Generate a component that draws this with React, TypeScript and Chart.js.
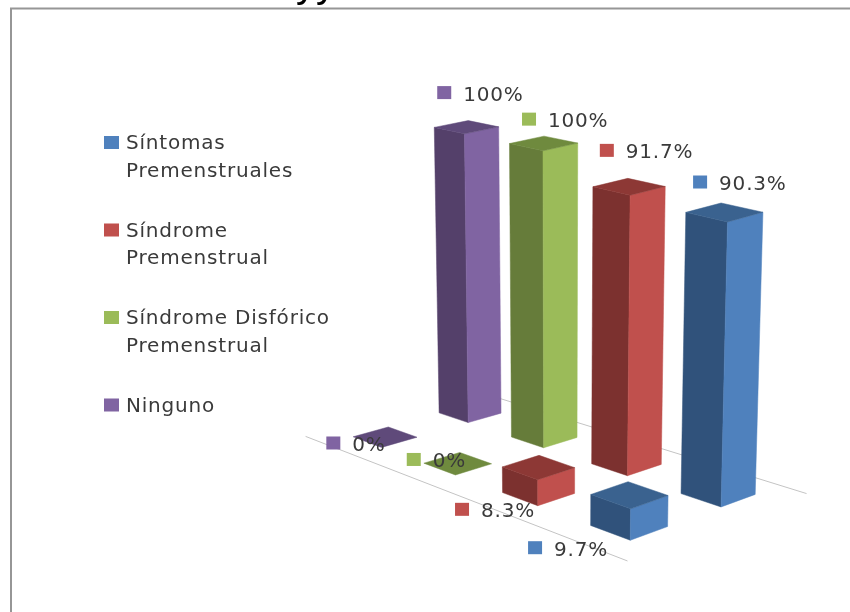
import React, { useEffect, useRef } from "react";
import { Chart, BarController, registerables } from "chart.js";

// Rows of the chart, back row first; the group names are not printed.
const rows = ["Fila posterior", "Fila frontal"];
const seriesNames = ["Síntomas Premenstruales", "Síndrome Premenstrual", "Síndrome Disfórico Premenstrual", "Ninguno"];
const legendLines = [["Síntomas", "Premenstruales"], ["Síndrome", "Premenstrual"], ["Síndrome Disfórico", "Premenstrual"], ["Ninguno"]];
const sintomas = [90.3, 9.7];
const sindrome = [91.7, 8.3];
const disforico = [100, 0];
const ninguno = [100, 0];

type Shades = { front: string; side: string; top: string };
const shades: Shades[] = [
  { front: "#4f81bd", side: "#30527b", top: "#3a628f" },
  { front: "#c0504d", side: "#7c312f", top: "#8d3835" },
  { front: "#9bbb59", side: "#667c3a", top: "#6f8a3e" },
  { front: "#8064a2", side: "#54406a", top: "#5f4a7a" },
];

// Floor projection: four reference points of the floor plane on the canvas.
const floorQuad = [[385, 437], [629, 526], [718, 494], [470, 413]];
const halfWidth = 0.207;
const halfDepth = 0.2;
const verticalScale = 0.953;
const depthPower = 0.55;
const vanishX = 560;
const lean = 0.04 / 285;
// Where each value tag sits relative to the far top corner of its prism.
const tagOffsets = [
  [[-21, -21], [-93, 66]],
  [[-21, -28], [-77, 54]],
  [[-15, -17], [-46, 7]],
  [[-24, -28], [-55, 16]],
];
const textFont = '20px "DejaVu Sans"';
const textColor = "#3a3a3a";

const homography = (() => {
  const [[x0, y0], [x1, y1], [x2, y2], [x3, y3]] = floorQuad;
  const dx1 = x1 - x2, dx2 = x3 - x2, sx = x0 - x1 + x2 - x3;
  const dy1 = y1 - y2, dy2 = y3 - y2, sy = y0 - y1 + y2 - y3;
  const den = dx1 * dy2 - dx2 * dy1;
  const g = (sx * dy2 - dx2 * sy) / den;
  const h = (dx1 * sy - sx * dy1) / den;
  return { a: x1 - x0 + g * x1, b: x3 - x0 + h * x3, c: x0, d: y1 - y0 + g * y1, e: y3 - y0 + h * y3, f: y0, g, h };
})();

// Position along the series axis (0..3) and the row axis (0..1) to canvas pixels.
function floorPoint(s: number, r: number) {
  const u = s / 3;
  const { a, b, c, d, e, f, g, h } = homography;
  const w = g * u + h * r + 1;
  return { x: (a * u + b * r + c) / w, y: (d * u + e * r + f) / w, depth: (h + 1) / w };
}

function raise(p: { x: number; y: number; depth: number }, px: number) {
  const lift = px * verticalScale * Math.pow(p.depth, depthPower);
  return { x: p.x + (p.x - vanishX) * lean * lift, y: p.y - lift };
}

function prismCorners(datasetIndex: number, rowIndex: number, lift: number) {
  const s = seriesNames.length - 1 - datasetIndex;
  const r = rows.length - 1 - rowIndex;
  const left = floorPoint(s - halfWidth, r - halfDepth);
  const front = floorPoint(s + halfWidth, r - halfDepth);
  const right = floorPoint(s + halfWidth, r + halfDepth);
  const back = floorPoint(s - halfWidth, r + halfDepth);
  return {
    left, front, right,
    topLeft: raise(left, lift), topFront: raise(front, lift), topRight: raise(right, lift), topBack: raise(back, lift),
  };
}

function face(ctx: CanvasRenderingContext2D, pts: { x: number; y: number }[], color: string) {
  ctx.beginPath();
  pts.forEach((p, i) => (i ? ctx.lineTo(p.x, p.y) : ctx.moveTo(p.x, p.y)));
  ctx.closePath();
  ctx.fillStyle = color;
  ctx.strokeStyle = color;
  ctx.lineWidth = 0.5;
  ctx.fill();
  ctx.stroke();
}

// Bar controller that paints each value as a prism standing on the projected floor.
class Prism3DController extends BarController {
  static id = "prism3d";
  static defaults = { ...BarController.defaults };

  draw() {
    const { ctx } = this.chart;
    const meta = this.getMeta();
    const scale = meta.vScale as any;
    const values = this.getDataset().data as number[];
    const tone = shades[this.index];
    values.forEach((v, i) => {
      const lift = scale.getPixelForValue(0) - scale.getPixelForValue(v);
      const c = prismCorners(this.index, i, lift);
      if (lift > 0) {
        face(ctx, [c.left, c.front, c.topFront, c.topLeft], tone.side);
        face(ctx, [c.front, c.right, c.topRight, c.topFront], tone.front);
      }
      face(ctx, [c.topLeft, c.topFront, c.topRight, c.topBack], tone.top);
    });
  }
}

Chart.register(...registerables, Prism3DController);

const sceneFrame = {
  id: "sceneFrame",
  beforeDatasetsDraw(chart: Chart) {
    const { ctx, width } = chart;
    ctx.save();
    // Panel edge
    ctx.strokeStyle = "#969696";
    ctx.lineWidth = 2;
    ctx.beginPath();
    ctx.moveTo(11, chart.height);
    ctx.lineTo(11, 8.5);
    ctx.lineTo(width, 8.5);
    ctx.stroke();
    // Tail of the heading running off the top of the page
    ctx.fillStyle = "#000";
    ctx.font = '40px "Liberation Sans"';
    ctx.fillText("yy", 296, -3);
    // Floor lines at the front and the back of the rows
    ctx.strokeStyle = "#c4c4c4";
    ctx.lineWidth = 1;
    [-0.5, 1.5].forEach((r) => {
      const a = floorPoint(-0.52, r);
      const b = floorPoint(3.47, r);
      ctx.beginPath();
      ctx.moveTo(a.x, a.y);
      ctx.lineTo(b.x, b.y);
      ctx.stroke();
    });
    ctx.restore();
  },
};

const tagsAndKey = {
  id: "tagsAndKey",
  afterDatasetsDraw(chart: Chart) {
    const { ctx } = chart;
    ctx.save();
    ctx.font = textFont;
    ctx.textBaseline = "alphabetic";
    (ctx as any).letterSpacing = "0.8px";
    // Value tags
    chart.data.datasets.forEach((ds, di) => {
      const scale = chart.getDatasetMeta(di).vScale as any;
      (ds.data as number[]).forEach((v, i) => {
        const lift = scale.getPixelForValue(0) - scale.getPixelForValue(v);
        const anchor = prismCorners(di, i, lift).topBack;
        const [ox, oy] = tagOffsets[di][i];
        const kx = anchor.x + ox;
        const ky = anchor.y + oy;
        ctx.fillStyle = shades[di].front;
        ctx.fillRect(kx - 7, ky - 6.5, 14, 13);
        ctx.fillStyle = textColor;
        ctx.fillText(`${v}%`, kx + 19, ky + 8);
      });
    });
    // Legend
    legendLines.forEach((lines, i) => {
      const base = 149 + i * 87.5;
      ctx.fillStyle = shades[i].front;
      ctx.fillRect(104, base - 13, 15, 13);
      ctx.fillStyle = textColor;
      lines.forEach((line, j) => ctx.fillText(line, 126, base + j * 27.5));
    });
    ctx.restore();
  },
};

export default function App() {
  const canvasRef = useRef<HTMLCanvasElement>(null);
  useEffect(() => {
    document.body.style.margin = "0";
    const chart = new Chart(canvasRef.current!, {
      type: "prism3d" as any,
      data: {
        labels: rows,
        datasets: [
          { label: seriesNames[0], data: sintomas, clip: false },
          { label: seriesNames[1], data: sindrome, clip: false },
          { label: seriesNames[2], data: disforico, clip: false },
          { label: seriesNames[3], data: ninguno, clip: false },
        ],
      } as any,
      options: {
        responsive: false,
        animation: false,
        layout: { padding: { top: 150, bottom: 162, left: 0, right: 0 } },
        plugins: { legend: { display: false }, title: { display: false }, tooltip: { enabled: false } },
        scales: {
          x: { type: "category", display: false },
          y: { type: "linear", min: 0, max: 100, display: false },
        },
      },
      plugins: [sceneFrame, tagsAndKey],
    });
    return () => chart.destroy();
  }, []);
  return (
    <div style={{ width: 850, height: 612, background: "#fff" }}>
      <canvas ref={canvasRef} width={850} height={612} style={{ display: "block" }} />
    </div>
  );
}
